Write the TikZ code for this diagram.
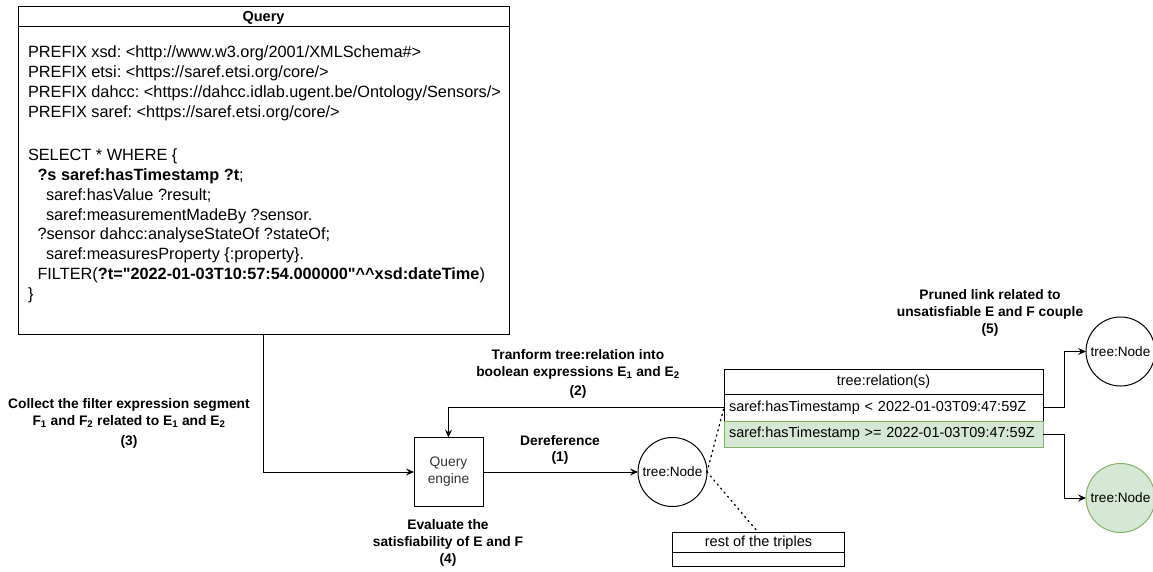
\documentclass[tikz,border=0pt]{standalone}
\usepackage{fontspec}
\setmainfont{Liberation Sans}
\usetikzlibrary{arrows.meta}
\definecolor{gfill}{HTML}{D5E8D4}
\definecolor{gline}{HTML}{82B366}
\definecolor{txtgray}{HTML}{333333}
\frenchspacing
\begin{document}
\frenchspacing
\begin{tikzpicture}[x=1pt,y=-1pt,
  every node/.style={inner sep=0pt, outer sep=0pt},
  box/.style={draw, line width=1pt, rectangle},
  conn/.style={draw, line width=1pt, -{Stealth[length=8pt,width=7pt,inset=3pt]}},
  dotline/.style={draw, line width=1.3pt, dash pattern=on 1.3pt off 4pt, line cap=round},
  lbl/.style={align=center, font=\bfseries\fontsize{13.8}{16.8}\selectfont},
  nodetxt/.style={font=\fontsize{14.5}{17}\selectfont},
  qline/.style={anchor=base west, font=\fontsize{16.3}{20}\selectfont},
  tnode/.style={draw, line width=1pt, circle, minimum size=69pt, font=\fontsize{13.6}{16}\selectfont}
]
\useasboundingbox (0,0) rectangle (1153,572);

% Query box
\node[box, minimum width=491pt, minimum height=327pt] (query) at (263.5,170.5) {};
\draw[line width=1pt] (18,27) -- (509,27);
\node[font=\bfseries\fontsize{14.5}{17}\selectfont] (qtitle) at (263.5,17.5) {Query};
\node[qline] (q1) at (28,58) {PREFIX xsd: <http://www.w3.org/2001/XMLSchema\#>};
\node[qline] (q2) at (28,78) {PREFIX etsi: <https://saref.etsi.org/core/>};
\node[qline] (q3) at (28,98) {PREFIX dahcc: <https://dahcc.idlab.ugent.be/Ontology/Sensors/>};
\node[qline] (q4) at (28,117.5) {PREFIX saref: <https://saref.etsi.org/core/>};
\node[qline] (q5) at (28,161) {SELECT * WHERE \{};
\node[qline] (q6) at (37.5,181) {\textbf{?s saref:hasTimestamp ?t};};
\node[qline] (q7) at (46,200.5) {saref:hasValue ?result;};
\node[qline] (q8) at (46,220) {saref:measurementMadeBy ?sensor.};
\node[qline] (q9) at (37.5,239.5) {?sensor dahcc:analyseStateOf ?stateOf;};
\node[qline] (q10) at (46,259) {saref:measuresProperty \{:property\}.};
\node[qline] (q11) at (37.5,279) {FILTER(\textbf{?t=\textquotedbl 2022-01-03T10:57:54.000000\textquotedbl\textasciicircum\textasciicircum xsd:dateTime})};
\node[qline] (q12) at (28,299) {\}};

% Query engine
\node[box, minimum width=69pt, minimum height=69pt, align=center, text=txtgray,
      font=\fontsize{13.8}{17}\selectfont] (engine) at (448.5,472) {Query\\engine};

% middle tree node
\node[tnode] (tn) at (672.5,472) {tree:Node};

% relation box
\node[box, nodetxt, minimum width=319pt, minimum height=25pt] (relh) at (883.5,381.5) {tree:relation(s)};
\node[box, nodetxt, text width=309pt, inner xsep=5pt, align=left, minimum height=27pt] (r1) at (883.5,407.5) {saref:hasTimestamp < 2022-01-03T09:47:59Z};
\node[box, nodetxt, draw=gline, fill=gfill, text width=309pt, inner xsep=5pt, align=left, minimum height=26pt] (r2) at (883.5,434) {saref:hasTimestamp >= 2022-01-03T09:47:59Z};

% right tree nodes
\node[tnode] (tnA) at (1120.5,351.5) {tree:Node};
\node[tnode, draw=gline, fill=gfill] (tnB) at (1120.5,498) {tree:Node};

% rest of the triples
\node[box, nodetxt, minimum width=171.6pt, minimum height=20pt] (rest1) at (758.5,542.7) {rest of the triples};
\node[box, minimum width=171.6pt, minimum height=14pt] (rest2) at (758.5,559.7) {};

% connectors
\path[conn] (query.south) |- (engine.west);
\path[conn] (engine.east) -- (tn.west);
\path[conn] (r1.west) -| (engine.north);
\path[conn] (r1.east) -- ++(21,0) |- (tnA.west);
\path[conn] (r2.east) -- ++(21,0) |- (tnB.west);
\path[dotline] (tn.east) -- (r1.west);
\path[dotline] (tn.east) -- (rest1.north);

% labels
\node[lbl] (l3) at (129,423.5) {Collect the filter expression segment\\F\textsubscript{1} and F\textsubscript{2} related to E\textsubscript{1} and E\textsubscript{2}\\[3pt](3)};
\node[lbl] (l2) at (578,374) {Tranform tree:relation into\\boolean expressions E\textsubscript{1} and E\textsubscript{2}\\[2pt](2)};
\node[lbl] (l1) at (560,450) {Dereference\\(1)};
\node[lbl] (l4) at (448,543) {Evaluate the\\satisfiability of E and F\\(4)};
\node[lbl] (l5) at (990,313) {Pruned link related to\\unsatisfiable E and F couple\\(5)};
\end{tikzpicture}
\end{document}
